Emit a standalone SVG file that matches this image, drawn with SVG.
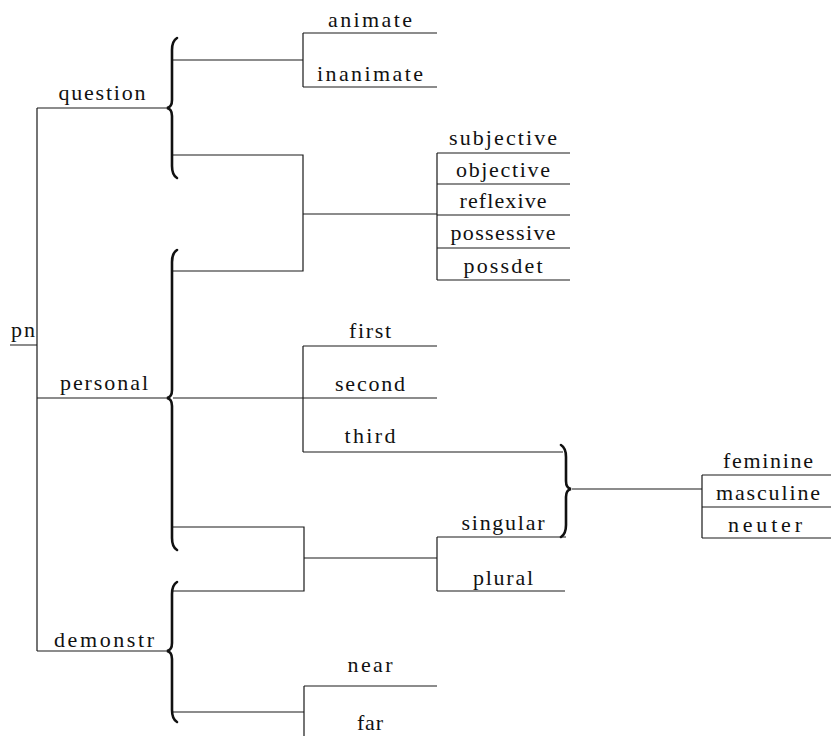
<svg xmlns="http://www.w3.org/2000/svg" width="831" height="736" viewBox="0 0 831 736">
<style>
text{font-family:"Liberation Serif","DejaVu Serif",serif;font-size:22px;fill:#111;text-anchor:middle}
.ln{stroke:#1a1a1a;stroke-width:1.2;fill:none}
.br{stroke:#111;stroke-width:2.6;fill:none;stroke-linecap:round}
</style>
<rect width="831" height="736" fill="#fff"/>
<g id="connectors">
<path class="ln" d="M10 345H37M37 108V651M37 108H167M37 398H167M37 651H167"/>
<path class="ln" d="M173 60H303M303 33V87M303 33H437M303 87H437"/>
<path class="ln" d="M173 155H303V271H173M303 214H437"/>
<path class="ln" d="M437 153V280M437 153H570M437 184H570M437 215H570M437 248H570M437 280H570"/>
<path class="ln" d="M173 398H437M303 346V452M303 346H437M303 452H563"/>
<path class="ln" d="M173 527H304V591H173M304 558H437M437 537V591M437 537H566M437 591H565"/>
<path class="ln" d="M572 489H702M702 475V538M702 475H831M702 507H831M702 538H831"/>
<path class="ln" d="M173 712H304M304 686V736M304 686H437"/>
<path class="br" d="M177 38Q172 41 172 50L172 100Q172 107 167 108Q172 109 172 116L172 166Q172 175 177 178"/>
<path class="br" d="M177 250Q172 253 172 262L172 390Q172 397 167 398Q172 399 172 406L172 538Q172 547 177 550"/>
<path class="br" d="M177 582Q172 585 172 594L172 643Q172 650 167 651Q172 652 172 659L172 710Q172 719 177 722"/>
<path class="br" d="M561 445Q566 448 566 457L566 481Q566 488 571 489Q566 490 566 497L566 525Q566 534 561 537"/>
</g>
<g id="pn"><text x="23" y="337" textLength="24" lengthAdjust="spacing">pn</text></g>
<g id="question"><text x="102" y="100" textLength="87" lengthAdjust="spacing">question</text></g>
<g id="personal"><text x="104" y="390" textLength="88" lengthAdjust="spacing">personal</text></g>
<g id="demonstr"><text x="104" y="647" textLength="100" lengthAdjust="spacing">demonstr</text></g>
<g id="animate"><text x="370" y="27" textLength="84" lengthAdjust="spacing">animate</text></g>
<g id="inanimate"><text x="370" y="81" textLength="106" lengthAdjust="spacing">inanimate</text></g>
<g id="subjective"><text x="503" y="145" textLength="108" lengthAdjust="spacing">subjective</text></g>
<g id="objective"><text x="503" y="177" textLength="94" lengthAdjust="spacing">objective</text></g>
<g id="reflexive"><text x="503" y="208" textLength="87" lengthAdjust="spacing">reflexive</text></g>
<g id="possessive"><text x="503" y="240" textLength="105" lengthAdjust="spacing">possessive</text></g>
<g id="possdet"><text x="503" y="273" textLength="79" lengthAdjust="spacing">possdet</text></g>
<g id="first"><text x="370" y="338" textLength="42" lengthAdjust="spacing">first</text></g>
<g id="second"><text x="370" y="391" textLength="70" lengthAdjust="spacing">second</text></g>
<g id="third"><text x="370" y="443" textLength="51" lengthAdjust="spacing">third</text></g>
<g id="singular"><text x="503" y="530" textLength="83" lengthAdjust="spacing">singular</text></g>
<g id="plural"><text x="503" y="585" textLength="60" lengthAdjust="spacing">plural</text></g>
<g id="feminine"><text x="768" y="468" textLength="90" lengthAdjust="spacing">feminine</text></g>
<g id="masculine"><text x="768" y="500" textLength="104" lengthAdjust="spacing">masculine</text></g>
<g id="neuter"><text x="765" y="532" textLength="74" lengthAdjust="spacing">neuter</text></g>
<g id="near"><text x="370" y="672" textLength="45" lengthAdjust="spacing">near</text></g>
<g id="far"><text x="370" y="730" textLength="26" lengthAdjust="spacing">far</text></g>
</svg>
